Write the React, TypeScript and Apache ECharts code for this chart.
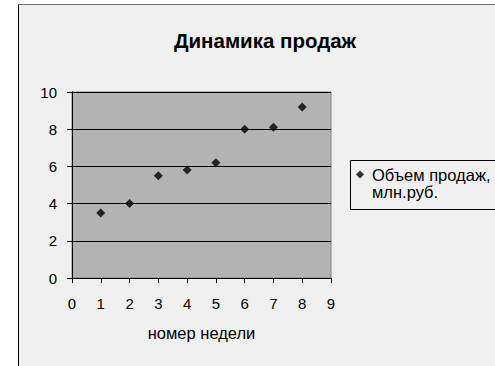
import React, { useEffect, useRef } from "react";
import * as echarts from "echarts";

const weeks = [1, 2, 3, 4, 5, 6, 7, 8];
const sales = [3.5, 4, 5.5, 5.8, 6.2, 8, 8.1, 9.2];
const seriesName = "Объем продаж, млн.руб.";
const legendLine1 = "Объем продаж,";
const legendLine2 = "млн.руб.";
const titleText = "Динамика продаж";
const xAxisName = "номер недели";

export default function App() {
  const ref = useRef<HTMLDivElement>(null);
  useEffect(() => {
    if (!ref.current) return;
    const chart = echarts.init(ref.current, null, { renderer: "svg" });
    const font = "Liberation Sans";
    chart.setOption({
      animation: false,
      backgroundColor: "#ffffff",
      textStyle: { fontFamily: font },
      graphic: [
        {
          type: "rect",
          shape: { x: 18.5, y: 4.5, width: 520, height: 400 },
          style: { fill: "#f0f0f0", stroke: "#000000", lineWidth: 1 },
          z: -10,
        },
        {
          type: "line",
          shape: { x1: 18.5, y1: 4.5, x2: 495, y2: 4.5 },
          style: { stroke: "#6e6e6e", lineWidth: 1 },
          z: -9,
        },
        {
          type: "rect",
          shape: { x: 350.5, y: 160.5, width: 150, height: 49 },
          style: { fill: "#f0f0f0", stroke: "#000000", lineWidth: 1 },
          z: 5,
        },
        {
          type: "text",
          x: 372,
          y: 192,
          style: {
            text: legendLine2,
            fill: "#000",
            font: `16.5px "${font}"`,
            verticalAlign: "middle",
            align: "left",
          },
          z: 7,
        },
      ],
      title: {
        text: titleText,
        left: 265,
        textAlign: "center",
        top: 30,
        padding: 0,
        textStyle: { fontFamily: font, fontSize: 20.5, fontWeight: "bold", color: "#000" },
      },
      legend: {
        left: 356,
        top: 166,
        orient: "vertical",
        icon: "diamond",
        itemWidth: 8,
        itemHeight: 8,
        padding: 0,
        data: [seriesName],
        formatter: () => legendLine1,
        textStyle: { fontFamily: font, fontSize: 16.5, color: "#000", lineHeight: 17, padding: [0, 0, 0, 3] },
        z: 6,
      },
      grid: {
        left: 72,
        top: 92,
        width: 259,
        height: 186,
        show: true,
        backgroundColor: "#b3b3b3",
        borderColor: "#808080",
        borderWidth: 1,
      },
      xAxis: {
        type: "value",
        min: 0,
        max: 9,
        interval: 1,
        name: xAxisName,
        nameLocation: "middle",
        nameGap: 46,
        nameTextStyle: { fontFamily: font, fontSize: 16.5, color: "#000" },
        axisLine: { show: true, lineStyle: { color: "#000", width: 1 } },
        axisTick: { show: true, length: 5, lineStyle: { color: "#000" } },
        axisLabel: { fontFamily: font, fontSize: 15, color: "#000", margin: 18 },
        splitLine: { show: false },
      },
      yAxis: {
        type: "value",
        min: 0,
        max: 10,
        interval: 2,
        axisLine: { show: true, lineStyle: { color: "#000", width: 1 } },
        axisTick: { show: true, length: 5, lineStyle: { color: "#000" } },
        axisLabel: { fontFamily: font, fontSize: 15, color: "#000", margin: 15 },
        splitLine: { show: true, lineStyle: { color: "#000", width: 1 } },
      },
      series: [
        {
          name: seriesName,
          type: "scatter",
          symbol: "diamond",
          symbolSize: 9,
          itemStyle: { color: "#000" },
          data: weeks.map((w, i) => [w, sales[i]]),
        },
      ],
    });
    return () => chart.dispose();
  }, []);
  return (
    <div
      ref={ref}
      style={{ position: "fixed", left: 0, top: 0, width: 495, height: 366 }}
    />
  );
}
